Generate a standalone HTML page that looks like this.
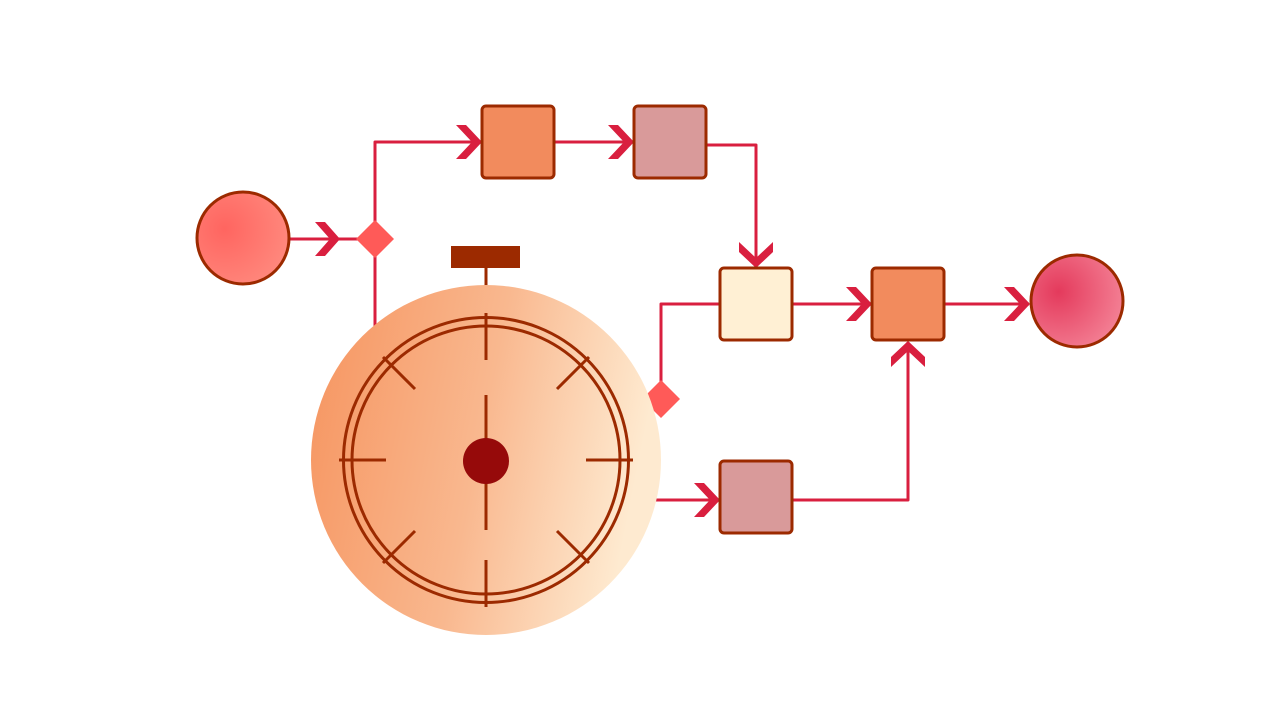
<!DOCTYPE html>
<html><head><meta charset="utf-8"><style>html,body{margin:0;padding:0;background:#fff}svg{display:block}</style></head>
<body>
<svg width="1267" height="713" viewBox="0 0 1267 713">
<defs>
<linearGradient id="wg" x1="0" y1="0" x2="1" y2="0.2"><stop offset="0" stop-color="#f6945f"/><stop offset="0.55" stop-color="#f9b88f"/><stop offset="1" stop-color="#feead0"/></linearGradient>
<radialGradient id="sg" cx="0.3" cy="0.4" r="0.8"><stop offset="0" stop-color="#ff6560"/><stop offset="1" stop-color="#ff8c80"/></radialGradient>
<radialGradient id="eg" cx="0.3" cy="0.4" r="0.8"><stop offset="0" stop-color="#e43a5c"/><stop offset="1" stop-color="#f5879a"/></radialGradient>
</defs>
<g fill="none" stroke="#d91f3f" stroke-width="3" stroke-linejoin="round">
<path d="M290 239 H360"/>
<path d="M375 225 V142 H480"/>
<path d="M375 255 V330"/>
<path d="M554 142 H632"/>
<path d="M706 145 H756 V266"/>
<path d="M661 385 V304 H720"/>
<path d="M792 304 H870"/>
<path d="M944 304 H1029"/>
<path d="M655 500 H718"/>
<path d="M792 500 H908 V342"/>
</g>
<g fill="#d91f3f">
<polygon points="315,222 325,222 340,239 325,256 315,256 330,239"/>
<polygon points="456,125 466,125 482,142 466,159 456,159 472,142"/>
<polygon points="608,125 618,125 634,142 618,159 608,159 624,142"/>
<polygon points="739,242 739,252 756,268 773,252 773,242 756,258"/>
<polygon points="846,287 856,287 872,304 856,321 846,321 862,304"/>
<polygon points="1004,287 1014,287 1030,304 1014,321 1004,321 1020,304"/>
<polygon points="694,483 704,483 720,500 704,517 694,517 710,500"/>
<polygon points="891,367 891,357 908,341 925,357 925,367 908,351"/>
</g>
<polygon points="375,220 394,239 375,258 356,239" fill="#ff5a58"/>
<polygon points="661,380 680,399 661,418 642,399" fill="#ff5a58"/>
<circle cx="243" cy="238" r="46" fill="url(#sg)" stroke="#9c2a00" stroke-width="3"/>
<circle cx="1077" cy="301" r="46" fill="url(#eg)" stroke="#9c2a00" stroke-width="3"/>
<g stroke="#9c2a00" stroke-width="3">
<rect x="482" y="106" width="72" height="72" rx="4" fill="#f28b5d"/>
<rect x="634" y="106" width="72" height="72" rx="4" fill="#d99a9a"/>
<rect x="720" y="268" width="72" height="72" rx="4" fill="#fff0d4"/>
<rect x="872" y="268" width="72" height="72" rx="4" fill="#f28b5d"/>
<rect x="720" y="461" width="72" height="72" rx="4" fill="#d99a9a"/>
</g>
<g>
<rect x="451" y="246" width="69" height="22" fill="#9c2a00"/>
<line x1="486" y1="268" x2="486" y2="287" stroke="#9c2a00" stroke-width="3"/>
<circle cx="486" cy="460" r="175" fill="url(#wg)"/>
<g fill="none" stroke="#9c2a00" stroke-width="3">
<circle cx="486" cy="460" r="142.5"/>
<circle cx="486" cy="460" r="134"/>
<line x1="486" y1="313" x2="486" y2="360"/>
<line x1="486" y1="560" x2="486" y2="607"/>
<line x1="339" y1="460" x2="386" y2="460"/>
<line x1="586" y1="460" x2="633" y2="460"/>
<line x1="383" y1="357" x2="415" y2="389"/>
<line x1="589" y1="357" x2="557" y2="389"/>
<line x1="383" y1="563" x2="415" y2="531"/>
<line x1="589" y1="563" x2="557" y2="531"/>
<line x1="486" y1="395" x2="486" y2="530"/>
</g>
<circle cx="486" cy="461" r="23" fill="#960a0a"/>
</g>
</svg>
</body></html>
